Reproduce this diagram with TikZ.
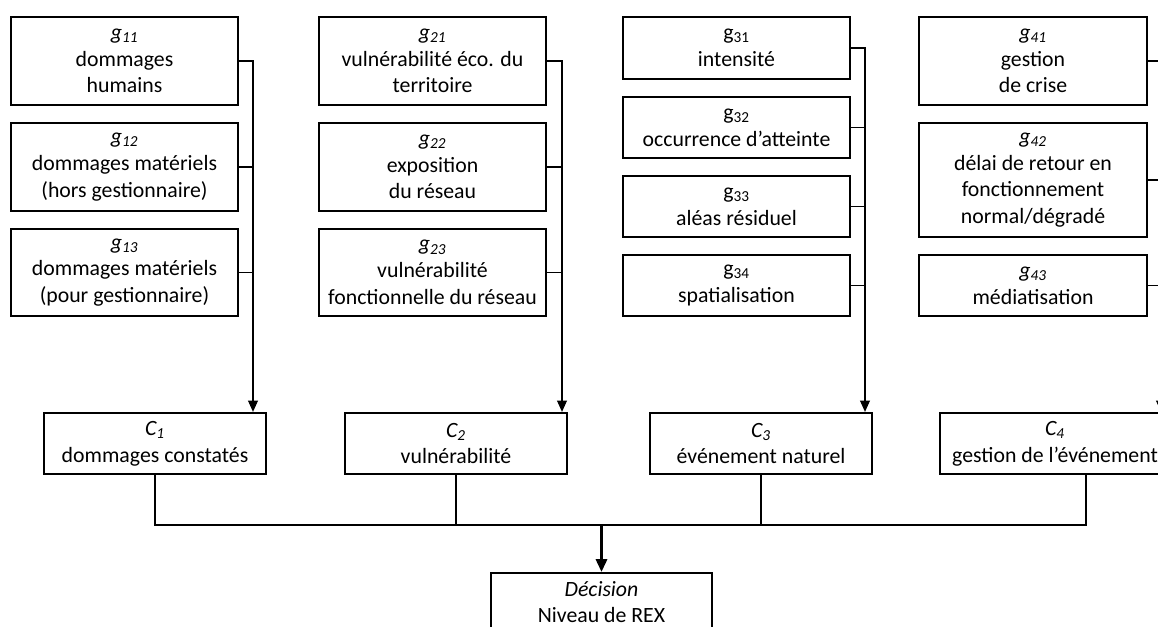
\documentclass[tikz,border=0pt]{standalone}
\usepackage{fontspec}
\setmainfont{Carlito}
\usetikzlibrary{arrows.meta, positioning, calc}

\begin{document}
\begin{tikzpicture}[
        indic/.style={rectangle, draw=black, line width=1.2pt, minimum width=5.675cm, align=center, font=\fontsize{15.5}{19}\selectfont, inner sep=1pt},
        crit/.style={rectangle, draw=black, line width=1.6pt, minimum width=5.55cm, minimum height=1.525cm, align=center, font=\fontsize{15.5}{19}\selectfont, inner sep=1pt},
        link/.style={draw=black, line width=0.8pt},
        arrow/.style={-{Triangle[length=8pt, width=7pt]}, line width=0.8pt, draw=black},
        bus/.style={draw=black, line width=1.6pt},
        busarrow/.style={bus, -{Triangle[length=9pt, width=8pt]}}
    ]
        \useasboundingbox (0,0) rectangle (28.95,-15.675);
        \clip (0,0) rectangle (28.95,-15.675);

        % indicateurs
        \node[indic, minimum height=2.2cm] (g11) at (3.1125,-1.525) {\textit{g\textsubscript{11}}\\dommages\\humains};
        \node[indic, minimum height=2.2cm] (g12) at (3.1125,-4.175) {\textit{g\textsubscript{12}}\\dommages matériels\\(hors gestionnaire)};
        \node[indic, minimum height=2.175cm] (g13) at (3.1125,-6.8125) {\textit{g\textsubscript{13}}\\dommages matériels\\(pour gestionnaire)};

        \node[indic, minimum height=2.2cm] (g21) at (10.8125,-1.525) {\textit{g\textsubscript{21}}\\vulnérabilité éco. du\\territoire};
        \node[indic, minimum height=2.2cm] (g22) at (10.8125,-4.175) {\textit{g\textsubscript{22}}\\exposition\\du réseau};
        \node[indic, minimum height=2.175cm] (g23) at (10.8125,-6.8125) {\textit{g\textsubscript{23}}\\vulnérabilité\\fonctionnelle du réseau};

        \node[indic, minimum height=1.55cm] (g31) at (18.4125,-1.2) {g\textsubscript{31}\\intensité};
        \node[indic, minimum height=1.525cm] (g32) at (18.4125,-3.1875) {g\textsubscript{32}\\occurrence d’atteinte};
        \node[indic, minimum height=1.525cm] (g33) at (18.4125,-5.1625) {g\textsubscript{33}\\aléas résiduel};
        \node[indic, minimum height=1.525cm] (g34) at (18.4125,-7.1375) {g\textsubscript{34}\\spatialisation};

        \node[indic, minimum width=5.7cm, minimum height=2.2cm] (g41) at (25.825,-1.525) {\textit{g\textsubscript{41}}\\gestion\\de crise};
        \node[indic, minimum width=5.7cm, minimum height=2.85cm] (g42) at (25.825,-4.5) {\textit{g\textsubscript{42}}\\délai de retour en\\fonctionnement\\normal/dégradé};
        \node[indic, minimum width=5.7cm, minimum height=1.525cm] (g43) at (25.825,-7.1375) {\textit{g\textsubscript{43}}\\médiatisation};

        % criteres
        \node[crit] (C1) at (3.875,-11.0875) {\textit{C\textsubscript{1}}\\dommages constatés};
        \node[crit] (C2) at (11.4,-11.0875) {\textit{C\textsubscript{2}}\\vulnérabilité};
        \node[crit] (C3) at (19.025,-11.0875) {\textit{C\textsubscript{3}}\\événement naturel};
        \node[crit, minimum width=5.75cm] (C4) at (26.375,-11.0875) {\textit{C\textsubscript{4}}\\gestion de l’événement};

        \node[crit, minimum width=5.525cm, minimum height=1.45cm] (dec) at (15.0375,-15.05) {\textit{Décision}\\Niveau de REX};

        \coordinate (v1) at (6.325,0);
        \coordinate (v2) at (14.05,0);
        \coordinate (v3) at (21.625,0);
        \coordinate (v4) at (29.025,0);
        \coordinate (bus) at (0,-13.125);

        \foreach \g/\last in {1/3, 2/3, 3/4, 4/3} {
            \draw[arrow] (g\g1.east) -| (v\g |- C\g.north);
            \foreach \i in {2,...,\last}
                \draw[link] (g\g\i.east) -- (g\g\i.east -| v\g);
        }

        \draw[bus] (C1.south) |- ([xshift=0.775cm]C4.south |- bus) -- ([xshift=0.775cm]C4.south);
        \draw[bus] (C2.south) -- (C2.south |- bus);
        \draw[bus] (C3.south) -- (C3.south |- bus);
        \draw[busarrow] (dec.north |- bus) -- (dec.north);
    \end{tikzpicture}
\end{document}
